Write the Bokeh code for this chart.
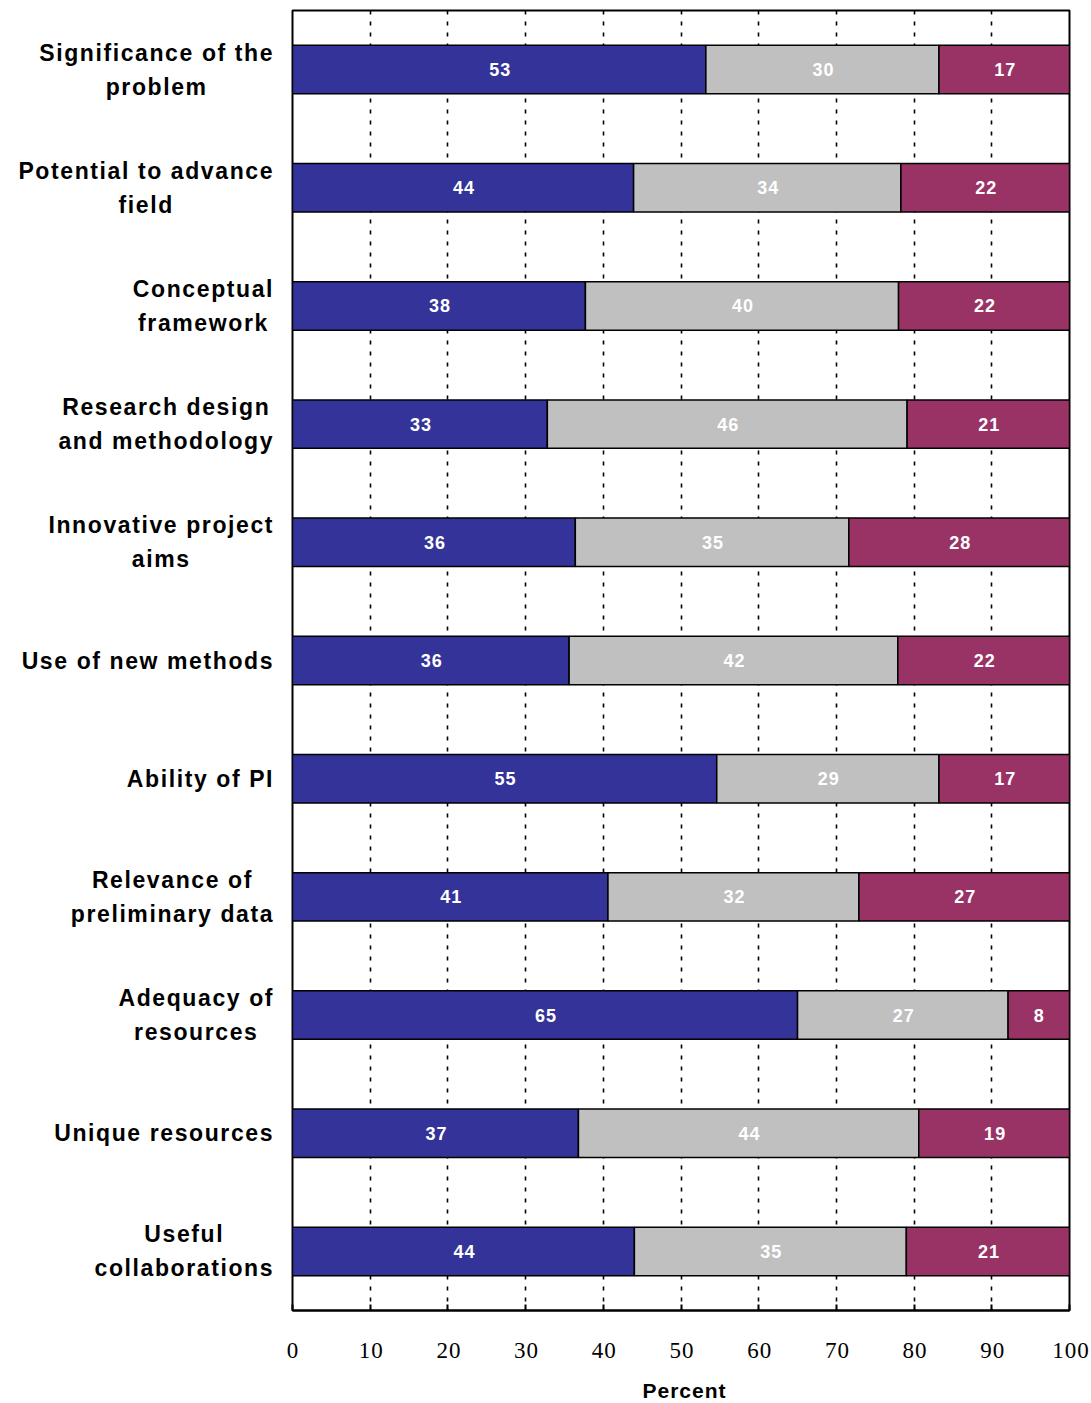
import glob
import numpy as np
from bokeh.plotting import figure
from bokeh.layouts import row
from bokeh.models import ColumnDataSource, Range1d, FixedTicker, InlineStyleSheet
from bokeh.core.properties import value
from bokeh.embed import file_html
from bokeh.resources import INLINE

# Review criteria, top to bottom
categories = [
    "Significance of the\nproblem",
    "Potential to advance\nfield",
    "Conceptual\nframework",
    "Research design\nand methodology",
    "Innovative project\naims",
    "Use of new methods",
    "Ability of PI",
    "Relevance of\npreliminary data",
    "Adequacy of\nresources",
    "Unique resources",
    "Useful\ncollaborations",
]

# Percent of responses in each of the three groups
group_a = [53.2, 43.9, 37.7, 32.8, 36.4, 35.6, 54.6, 40.6, 65.0, 36.8, 44.0]
group_b = [30.0, 34.4, 40.3, 46.3, 35.2, 42.3, 28.6, 32.3, 27.1, 43.8, 35.0]
group_c = [16.8, 21.7, 22.0, 20.9, 28.4, 22.1, 16.8, 27.1, 7.9, 19.4, 21.0]

x_ticks = [0, 10, 20, 30, 40, 50, 60, 70, 80, 90, 100]

colors = ["#333399", "#C0C0C0", "#993366"]

SANS = "Liberation Sans"
CAT_SIZE = 23
CAT_SPACING = 1.6
LEFT_W = 280
LABEL_RIGHT = 272
LINE_STEP = 34
FRAME_H = 1300


def text_width(s, size):
    """Width in px of a bold Liberation Sans string (estimate if no font file)."""
    try:
        from PIL import ImageFont
        paths = glob.glob("/usr/share/fonts/**/LiberationSans-Bold.ttf", recursive=True)
        font = ImageFont.truetype(paths[0] if paths else "LiberationSans-Bold.ttf", size)
        return font.getlength(s)
    except Exception:
        return 0.6 * size * len(s)


def spaced_width(s):
    return text_width(s, CAT_SIZE) + CAT_SPACING * (len(s) - 1)


n = len(categories)
ys = np.arange(n)
y_range = Range1d(n - 0.5, -0.5)

# ---- main chart ----
p = figure(
    frame_width=777,
    frame_height=FRAME_H,
    x_range=Range1d(0, 100),
    y_range=y_range,
    output_backend="svg",
    toolbar_location=None,
    min_border_left=292 - LEFT_W,
    min_border_right=22,
    min_border_top=10,
    min_border_bottom=93,
    background_fill_color="white",
    border_fill_color="white",
)

series = [np.array(group_a), np.array(group_b), np.array(group_c)]
left = np.zeros(n)
for vals, col in zip(series, colors):
    right = left + vals
    src = ColumnDataSource(dict(
        y=ys,
        left=left,
        right=right,
        mid=(left + right) / 2,
        txt=[f"{v:.0f}" for v in vals],
    ))
    p.hbar(y="y", left="left", right="right", height=0.41, source=src,
           fill_color=col, line_color="black", line_width=1.5)
    p.text(x="mid", y="y", text="txt", source=src, text_color="white",
           text_font=value(SANS), text_font_style="bold",
           text_font_size="18px", text_align="center", text_baseline="middle")
    left = right

p.ygrid.grid_line_color = None
p.xgrid.ticker = FixedTicker(ticks=x_ticks)
p.xgrid.grid_line_color = "black"
p.xgrid.grid_line_dash = "4 7"
p.xgrid.grid_line_width = 1.6
p.outline_line_color = "black"
p.outline_line_width = 2
p.outline_line_alpha = 1

p.yaxis.visible = False

ax = p.xaxis[0]
ax.ticker = FixedTicker(ticks=x_ticks)
ax.axis_label = "Percent"
ax.axis_label_text_font = SANS
ax.axis_label_text_font_style = "bold"
ax.axis_label_text_font_size = "21px"
ax.axis_label_text_color = "black"
ax.axis_label_standoff = 18
ax.major_label_text_font = "Liberation Serif"
ax.major_label_text_font_size = "23px"
ax.major_label_text_color = "black"
ax.major_label_standoff = 32
ax.major_tick_in = 6
ax.major_tick_out = 0
ax.major_tick_line_color = "black"
ax.major_tick_line_width = 2
ax.minor_tick_line_color = None
ax.axis_line_color = "black"
ax.axis_line_width = 2
p.stylesheets = [InlineStyleSheet(css=":host { letter-spacing: 1px; }")]

# ---- category labels: block right-aligned beside the bars, lines centred ----
rows_x, rows_y, rows_off, rows_txt = [], [], [], []
for i, cat in enumerate(categories):
    lines = cat.split("\n")
    block_w = max(spaced_width(s) for s in lines)
    centre = LABEL_RIGHT - block_w / 2
    k = len(lines)
    for j, s in enumerate(lines):
        rows_x.append(centre - spaced_width(s) / 2)
        rows_y.append(i)
        rows_off.append((j - (k - 1) / 2) * LINE_STEP)
        rows_txt.append(s)

lab_src = ColumnDataSource(dict(x=rows_x, y=rows_y, off=rows_off, txt=rows_txt))

lab = figure(
    frame_width=LEFT_W,
    frame_height=FRAME_H,
    x_range=Range1d(0, LEFT_W),
    y_range=y_range,
    output_backend="svg",
    toolbar_location=None,
    min_border_left=0,
    min_border_right=0,
    min_border_top=10,
    min_border_bottom=93,
    background_fill_color="white",
    border_fill_color="white",
    outline_line_color=None,
)
lab.axis.visible = False
lab.grid.visible = False
lab.text(x="x", y="y", text="txt", y_offset="off", source=lab_src,
         text_color="black", text_font=value(SANS), text_font_style="bold",
         text_font_size=f"{CAT_SIZE}px", text_align="left",
         text_baseline="middle")
lab.stylesheets = [InlineStyleSheet(css=f":host {{ letter-spacing: {CAT_SPACING}px; }}")]

layout = row(lab, p)
open("out.html", "w").write(file_html(layout, INLINE))
